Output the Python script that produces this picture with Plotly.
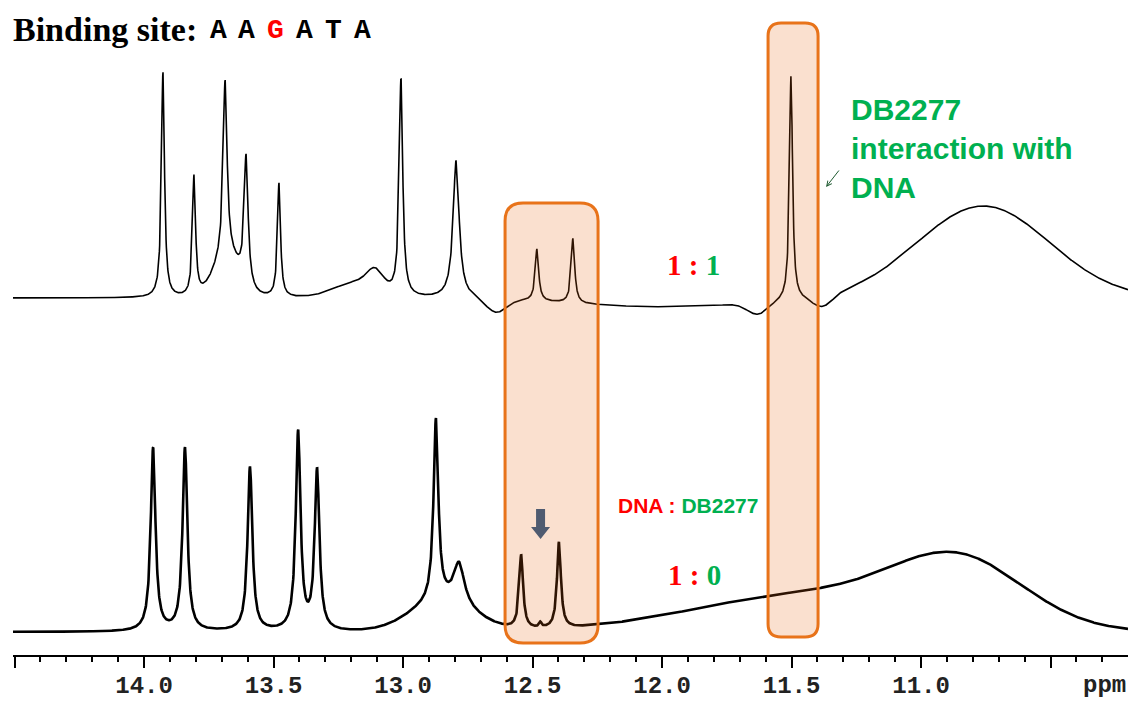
import numpy as np
import plotly.graph_objects as go

# ---------------- data ----------------
# chemical shift axis (ppm), reversed
ppm_range = [14.506, 10.201]
tick_ppm = [14.5, 14.0, 13.5, 13.0, 12.5, 12.0, 11.5, 11.0, 10.5]
tick_labels = ["", "14.0", "13.5", "13.0", "12.5", "12.0", "11.5", "11.0", ""]

# upper spectrum  (DNA : DB2277 = 1 : 1)
upper_offset = 357
upper_peak_ppm = [13.927, 13.807, 13.687, 13.606, 13.479, 13.008, 12.795, 12.483, 12.344, 11.502]
upper_peak_height = [225, 120, 176, 128, 114, 216, 138, 52, 65, 225]
upper_peak_hwhm = [0.007, 0.007, 0.009, 0.009, 0.007, 0.008, 0.014, 0.008, 0.008, 0.007]
upper_broad_ppm = [13.68, 13.108, 13.17, 12.64, 12.0, 11.63, 11.38, 10.76]
upper_broad_amp = [40, 16, 16, -14, -9, -12, -12, 92]
upper_broad_sigma = [0.05, 0.03, 0.09, 0.04, 0.35, 0.04, 0.04, 0.255]

# lower spectrum  (DNA : DB2277 = 1 : 0)
lower_offset = 23
lower_peak_ppm = [13.965, 13.842, 13.591, 13.405, 13.332, 12.873, 12.784, 12.544, 12.470, 12.398]
lower_peak_height = [183, 183, 164, 198, 159, 181, 41, 73, 5, 86]
lower_peak_hwhm = [0.011, 0.011, 0.011, 0.011, 0.011, 0.011, 0.025, 0.009, 0.006, 0.009]
lower_broad_ppm = [12.85, 11.42, 10.85]
lower_broad_amp = [30, 38, 62]
lower_broad_sigma = [0.12, 0.45, 0.25]

# ---------------- helpers ----------------
PX0, PPM0, PXPERPPM, AXIS_Y = 144, 14.0, 259.0, 655
PLOT_L, PLOT_R = 13, 1128


def X(px):
    return PPM0 - (px - PX0) / PXPERPPM


def Y(py):
    return AXIS_Y - py


def PX(px):
    return (px - PLOT_L) / (PLOT_R - PLOT_L)


def PY(py):
    return (AXIS_Y - py) / AXIS_Y


def spectrum(x, offset, p_ppm, p_h, p_w, b_ppm, b_a, b_s):
    y = np.full_like(x, float(offset))
    for c, h, w in zip(p_ppm, p_h, p_w):
        y += h / (1.0 + ((x - c) / w) ** 2)
    for c, a, s in zip(b_ppm, b_a, b_s):
        y += a * np.exp(-((x - c) ** 2) / (2 * s * s))
    return y


x = np.linspace(ppm_range[1], ppm_range[0], 4000)
y_up = spectrum(x, upper_offset, upper_peak_ppm, upper_peak_height, upper_peak_hwhm,
                upper_broad_ppm, upper_broad_amp, upper_broad_sigma)
y_lo = spectrum(x, lower_offset, lower_peak_ppm, lower_peak_height, lower_peak_hwhm,
                lower_broad_ppm, lower_broad_amp, lower_broad_sigma)

fig = go.Figure()
fig.add_trace(go.Scatter(x=x, y=y_up, mode="lines", line=dict(color="black", width=1.6),
                         hoverinfo="skip", showlegend=False))
fig.add_trace(go.Scatter(x=x, y=y_lo, mode="lines", line=dict(color="black", width=2.6),
                         hoverinfo="skip", showlegend=False))


def rounded_box(px0, py0, px1, py1, r):
    pts = [
        ("M", [(px0 + r, py0)]), ("L", [(px1 - r, py0)]), ("Q", [(px1, py0), (px1, py0 + r)]),
        ("L", [(px1, py1 - r)]), ("Q", [(px1, py1), (px1 - r, py1)]),
        ("L", [(px0 + r, py1)]), ("Q", [(px0, py1), (px0, py1 - r)]),
        ("L", [(px0, py0 + r)]), ("Q", [(px0, py0), (px0 + r, py0)]),
    ]
    s = ""
    for cmd, ps in pts:
        s += cmd + " " + " ".join(f"{X(a):.5f},{Y(b):.3f}" for a, b in ps) + " "
    return s + "Z"


box_px = [(505, 203, 598, 643, 18), (768, 23, 818, 637, 13)]
for (l, t, r, b, rad) in box_px:
    fig.add_shape(type="path", path=rounded_box(l, t, r, b, rad), xref="x", yref="y",
                  fillcolor="rgba(230,100,15,0.2)", line=dict(color="#E8731A", width=3),
                  layer="above")

# grey block arrow
arrow_px = [(536, 509), (545, 509), (545, 527), (550, 527), (540.5, 539), (531, 527), (536, 527)]
path = "M " + " L ".join(f"{X(a):.5f},{Y(b):.3f}" for a, b in arrow_px) + " Z"
fig.add_shape(type="path", path=path, xref="x", yref="y", fillcolor="#4F5B70",
              line=dict(color="#4F5B70", width=0), layer="above")

RED, GREEN = "#FF0000", "#00B050"
ann = []
ann.append(dict(x=PX(11), y=PY(29), xref="paper", yref="paper", text="<b>Binding site:</b>",
                xanchor="left", yanchor="middle", showarrow=False,
                font=dict(family="Liberation Serif", size=34, color="black")))
for i, ch in enumerate("AAGATA"):
    ann.append(dict(x=X(218 + i * 28.9), y=Y(30), text=f"<b>{ch}</b>", xanchor="center", yanchor="middle",
                    showarrow=False,
                    font=dict(family="Liberation Mono", size=28, color=RED if i == 2 else "black")))
ann.append(dict(x=X(693), y=Y(265),
                text=f"<b><span style='color:{RED}'>1 :</span> <span style='color:{GREEN}'>1</span></b>",
                showarrow=False, font=dict(family="Liberation Serif", size=29, color=RED)))
ann.append(dict(x=X(694), y=Y(575),
                text=f"<b><span style='color:{RED}'>1 :</span> <span style='color:{GREEN}'>0</span></b>",
                showarrow=False, font=dict(family="Liberation Serif", size=29, color=RED)))
ann.append(dict(x=X(688), y=Y(505),
                text=f"<b><span style='color:{RED}'>DNA :</span> <span style='color:{GREEN}'>DB2277</span></b>",
                showarrow=False, font=dict(family="Liberation Sans", size=21, color=RED)))
ann.append(dict(x=X(849), y=Y(148), text="<b>DB2277<br>interaction with<br>DNA</b>",
                xanchor="left", yanchor="middle", align="left", showarrow=False,
                font=dict(family="Liberation Sans", size=30, color=GREEN)))
ann.append(dict(x=X(826), y=Y(187), ax=14, ay=-18, text="", showarrow=True, arrowhead=5,
                arrowsize=1, arrowwidth=1, arrowcolor="#1E5A30"))
ann.append(dict(x=PX(1104), y=PY(685), xref="paper", yref="paper", text="<b>ppm</b>",
                showarrow=False, xanchor="center", yanchor="middle",
                font=dict(family="Liberation Mono", size=24, color="#222222")))

fig.update_layout(
    width=1132, height=702,
    margin=dict(l=PLOT_L, r=1132 - PLOT_R, t=0, b=702 - AXIS_Y),
    paper_bgcolor="white", plot_bgcolor="white",
    annotations=ann,
    xaxis=dict(range=ppm_range, showline=True, linecolor="black", linewidth=1.5,
               ticks="outside", ticklen=11, tickwidth=1.5, tickcolor="black",
               tickmode="array", tickvals=tick_ppm, ticktext=tick_labels,
               tickfont=dict(family="Liberation Mono", size=24, color="#222222", weight="bold"),
               ticklabelstandoff=-4, automargin=False,
               minor=dict(ticks="outside", ticklen=5, tickwidth=1.5, tickcolor="black",
                          tickmode="linear", tick0=10.0, dtick=0.1, showgrid=False),
               showgrid=False, zeroline=False, fixedrange=True),
    yaxis=dict(range=[0, 655], visible=False, fixedrange=True, automargin=False),
    hovermode=False,
)

fig.write_html("out.html", config={"displayModeBar": False})
